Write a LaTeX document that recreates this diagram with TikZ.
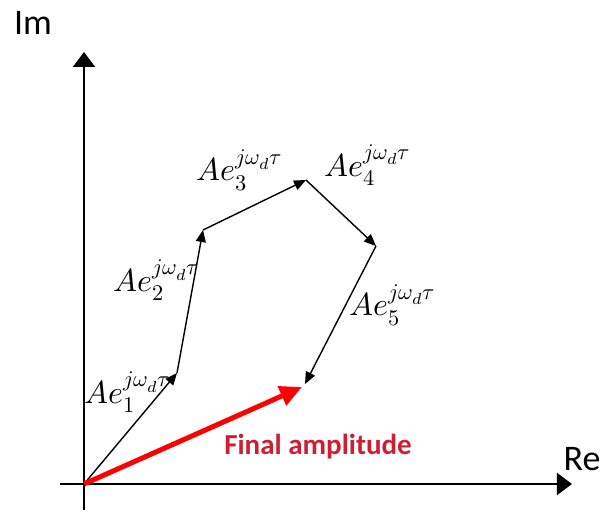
\documentclass[tikz,border=0pt]{standalone}
\usepackage{fontspec}
\usepackage{unicode-math}
\setmathfont{Latin Modern Math}
\newfontfamily\calibri{Carlito}
\usepackage{xcolor}
\definecolor{labelred}{RGB}{205,30,50}
\usetikzlibrary{arrows.meta}

\begin{document}
\begin{tikzpicture}[x=0.5pt, y=-0.5pt,
  axisline/.style={line width=1pt, -{Triangle[length=7.5pt, width=11pt]}},
  phasor/.style={line width=0.7pt, -{Triangle[length=6pt, width=5pt]}},
  total/.style={red, line width=2.5pt, -{Triangle[length=11pt, width=10pt]}},
  lbl/.style={font=\fontsize{16}{18}\selectfont, inner sep=0pt},
  axlbl/.style={font=\calibri\fontsize{18}{21}\selectfont, inner sep=0pt}]
  \useasboundingbox (0,0) rectangle (602,514);

  % Axes
  \coordinate (o) at (84,484);
  \coordinate (xl) at (60,484);
  \coordinate (xr) at (572,484);
  \coordinate (yb) at (84,510);
  \coordinate (yt) at (84,52);
  \draw[axisline] (xl) -- (xr);
  \draw[axisline] (yb) -- (yt);
  \node[axlbl] (im) at (33,23) {Im};
  \node[axlbl] (re) at (582,459) {Re};

  % Phasor chain
  \coordinate (p1) at (177,373);
  \coordinate (p2) at (203,230);
  \coordinate (p3) at (306,180);
  \coordinate (p4) at (376,246);
  \coordinate (p5) at (305,384);
  \draw[phasor] (o) -- (p1);
  \draw[phasor] (p1) -- (p2);
  \draw[phasor] (p2) -- (p3);
  \draw[phasor] (p3) -- (p4);
  \draw[phasor] (p4) -- (p5);

  % Labels of the phasors
  \node[lbl] (l1) at (128,392) {$Ae_1^{j\omega_d\tau}$};
  \node[lbl] (l2) at (157,280) {$Ae_2^{j\omega_d\tau}$};
  \node[lbl] (l3) at (240,170) {$Ae_3^{j\omega_d\tau}$};
  \node[lbl] (l4) at (368,165) {$Ae_4^{j\omega_d\tau}$};
  \node[lbl] (l5) at (393,305) {$Ae_5^{j\omega_d\tau}$};

  % Resultant
  \coordinate (f) at (302,387);
  \draw[total] (o) -- (f);
  \node[font=\calibri\bfseries\fontsize{14.5}{17}\selectfont, text=labelred, inner sep=0pt] (final) at (318,447) {Final amplitude};
\end{tikzpicture}
\end{document}
